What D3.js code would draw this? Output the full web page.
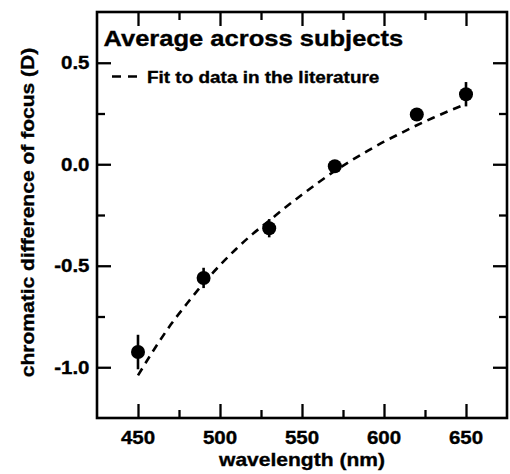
<!DOCTYPE html>
<html>
<head>
<meta charset="utf-8">
<script src="https://cdn.jsdelivr.net/npm/d3@7"></script>
<style>
  body { margin: 0; background: #fff; }
  svg { display: block; font-family: "Liberation Sans", Arial, sans-serif; font-weight: bold; }
  svg text { stroke: #000; stroke-width: 0.35; }
  .axis path { display: none; }
  .axis line { stroke: #000; stroke-width: 2.3; }
</style>
</head>
<body>
<svg id="chart"></svg>
<script>

// Measured points (wavelength, mean, error bar half-length)
var pointWavelengths = [450, 490, 530, 570, 620, 650];
var pointValues = [-0.925, -0.56, -0.315, -0.01, 0.245, 0.345];
var pointErrors = [0.085, 0.05, 0.045, 0.02, 0.03, 0.06];

// Literature fit curve
var fitWavelengths = [450, 460, 470, 480, 490, 500, 510, 520, 530, 540, 550,
                      560, 570, 580, 590, 600, 610, 620, 630, 640, 650];
var fitValues = [-1.04, -0.91, -0.79, -0.685, -0.586, -0.497, -0.416, -0.343, -0.278, -0.212, -0.15,
                 -0.09, -0.033, 0.018, 0.066, 0.111, 0.152, 0.192, 0.229, 0.264, 0.297];

// Ticks and labels
var xMajorTicks = [450, 500, 550, 600, 650];
var xMinorTicks = [475, 525, 575, 625];
var xTickLabels = ["450", "500", "550", "600", "650"];
var yMajorTicks = [-1.0, -0.5, 0.0, 0.5];
var yMinorTicks = [-0.75, -0.25, 0.25];
var yTickLabels = ["-1.0", "-0.5", "0.0", "0.5"];

var titleText = "Average across subjects";
var legendText = "Fit to data in the literature";
var xTitle = "wavelength (nm)";
var yTitle = "chromatic difference of focus (D)";

// Set dimensions
var margin = {top: 12, right: 3, bottom: 56, left: 97},
    width = 510 - margin.left - margin.right,
    height = 474 - margin.top - margin.bottom;

var stretch = 1.12;  // glyphs in the scan are a bit wider than Arial

var svg = d3.select("#chart")
    .attr("width", 510)
    .attr("height", 474)
  .append("g")
    .attr("transform", "translate(" + margin.left + "," + margin.top + ")");

// Scales
var x = d3.scaleLinear().domain([425, 675]).range([0, width]);
var y = d3.scaleLinear().domain([-1.25, 0.75]).range([height, 0]);

// Ticks on all four sides, pointing inward
function tickAxis(axis, values, size) {
    return axis.tickValues(values).tickSize(-size).tickFormat("");
}

svg.append("g").attr("class", "axis").attr("transform", "translate(0," + height + ")")
    .call(tickAxis(d3.axisBottom(x), xMajorTicks, 14));
svg.append("g").attr("class", "axis").attr("transform", "translate(0," + height + ")")
    .call(tickAxis(d3.axisBottom(x), xMinorTicks, 8));
svg.append("g").attr("class", "axis")
    .call(tickAxis(d3.axisTop(x), xMajorTicks, 14));
svg.append("g").attr("class", "axis")
    .call(tickAxis(d3.axisTop(x), xMinorTicks, 8));
svg.append("g").attr("class", "axis")
    .call(tickAxis(d3.axisLeft(y), yMajorTicks, 14));
svg.append("g").attr("class", "axis")
    .call(tickAxis(d3.axisLeft(y), yMinorTicks, 8));
svg.append("g").attr("class", "axis").attr("transform", "translate(" + width + ",0)")
    .call(tickAxis(d3.axisRight(y), yMajorTicks, 14));
svg.append("g").attr("class", "axis").attr("transform", "translate(" + width + ",0)")
    .call(tickAxis(d3.axisRight(y), yMinorTicks, 8));

// Frame
svg.append("rect")
    .attr("width", width)
    .attr("height", height)
    .attr("fill", "none")
    .attr("stroke", "#000")
    .attr("stroke-width", 2.6);

// Tick labels
svg.selectAll(".xlabel")
    .data(xMajorTicks)
    .enter().append("text")
    .attr("class", "xlabel")
    .attr("transform", function(d) { return "translate(" + x(d) + "," + (height + 25.5) + ") scale(" + stretch + ",1)"; })
    .attr("text-anchor", "middle")
    .attr("font-size", 18.3)
    .text(function(d, i) { return xTickLabels[i]; });

svg.selectAll(".ylabel")
    .data(yMajorTicks)
    .enter().append("text")
    .attr("class", "ylabel")
    .attr("transform", function(d) { return "translate(-7.5," + (y(d) + 6.5) + ") scale(" + stretch + ",1)"; })
    .attr("text-anchor", "end")
    .attr("font-size", 18.3)
    .text(function(d, i) { return yTickLabels[i]; });

// Axis titles
svg.append("text")
    .attr("transform", "translate(" + x(550) + "," + (height + 47.5) + ") scale(" + stretch + ",1)")
    .attr("text-anchor", "middle")
    .attr("font-size", 18.8)
    .text(xTitle);

svg.append("text")
    .attr("transform", "translate(" + (33.5 - margin.left) + "," + (212.5 - margin.top) + ") rotate(-90) scale(" + stretch + ",1)")
    .attr("text-anchor", "middle")
    .attr("font-size", 18.8)
    .text(yTitle);

// Title and legend
svg.append("text")
    .attr("transform", "translate(6.5,33.5) scale(" + stretch + ",1)")
    .attr("font-size", 22.8)
    .text(titleText);

svg.append("line")
    .attr("x1", 15).attr("x2", 41)
    .attr("y1", 64.5).attr("y2", 64.5)
    .attr("stroke", "#000")
    .attr("stroke-width", 2.6)
    .attr("stroke-dasharray", "9,7");

svg.append("text")
    .attr("transform", "translate(50,70.5) scale(" + stretch + ",1)")
    .attr("font-size", 16.9)
    .text(legendText);

// Fit line
var fitLine = d3.line()
    .x(function(d) { return x(d[0]); })
    .y(function(d) { return y(d[1]); })
    .curve(d3.curveMonotoneX);

svg.append("path")
    .datum(d3.zip(fitWavelengths, fitValues))
    .attr("d", fitLine)
    .attr("fill", "none")
    .attr("stroke", "#000")
    .attr("stroke-width", 2.6)
    .attr("stroke-dasharray", "8,6");

// Error bars and points
var points = d3.range(pointWavelengths.length);

svg.selectAll(".err")
    .data(points)
    .enter().append("line")
    .attr("class", "err")
    .attr("x1", function(i) { return x(pointWavelengths[i]); })
    .attr("x2", function(i) { return x(pointWavelengths[i]); })
    .attr("y1", function(i) { return y(pointValues[i] - pointErrors[i]); })
    .attr("y2", function(i) { return y(pointValues[i] + pointErrors[i]); })
    .attr("stroke", "#000")
    .attr("stroke-width", 2.6);

svg.selectAll("circle")
    .data(points)
    .enter().append("circle")
    .attr("cx", function(i) { return x(pointWavelengths[i]); })
    .attr("cy", function(i) { return y(pointValues[i]); })
    .attr("r", 7)
    .attr("fill", "#000");

</script>
</body>
</html>
